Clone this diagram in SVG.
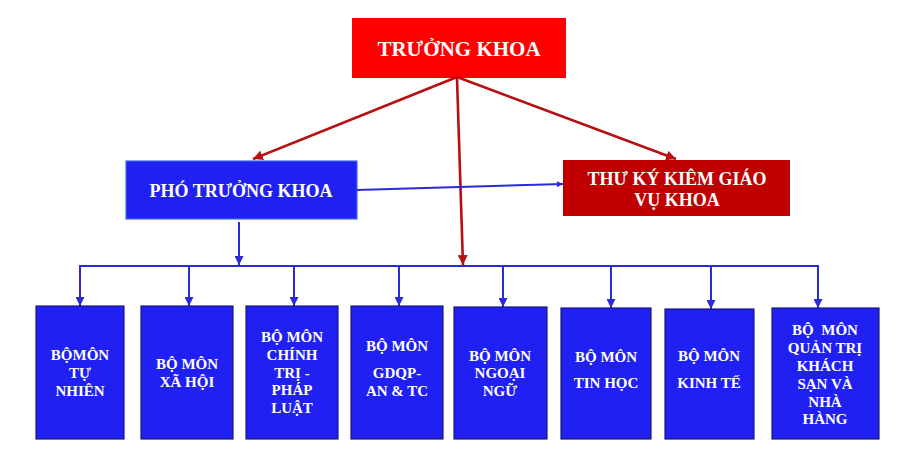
<svg xmlns="http://www.w3.org/2000/svg" width="914" height="466" viewBox="0 0 914 466">
<defs>
<marker id="ab" viewBox="0 0 10 10" refX="10" refY="5" markerWidth="4.5" markerHeight="4.5" orient="auto" markerUnits="strokeWidth"><path d="M0,0 L10,5 L0,10 z" fill="#2a2ad8"/></marker>
<marker id="ab2" viewBox="0 0 10 10" refX="10" refY="5" markerWidth="3.2" markerHeight="3.2" orient="auto" markerUnits="strokeWidth"><path d="M0,0 L10,5 L0,10 z" fill="#2a2ad8"/></marker>
<marker id="ar" viewBox="0 0 10 10" refX="10" refY="5" markerWidth="3.8" markerHeight="3.8" orient="auto" markerUnits="strokeWidth"><path d="M0,0 L10,5 L0,10 z" fill="#b80f12"/></marker>
</defs>
<style>
text{font-family:"Liberation Serif","Times New Roman",serif;font-weight:bold;fill:#fff;text-anchor:middle}
.dept rect{fill:#2020f2;stroke:#1a1a7a;stroke-width:1.2}
.dept text{font-size:15px}
.bl{stroke:#2a2ad8;stroke-width:2;fill:none}
.rd{stroke:#b80f12;stroke-width:2.6;fill:none}
</style>
<rect width="914" height="466" fill="#fff"/>
<g id="truong-khoa">
<rect x="352" y="18" width="214" height="60" fill="#ff0000"/>
<text x="459" y="56" font-size="21">TRƯỞNG KHOA</text>
</g>
<g id="pho-truong-khoa">
<rect x="126" y="161" width="231" height="58" fill="#2020f2" stroke="#3a6cf0" stroke-width="1.2"/>
<text x="241" y="197" font-size="18">PHÓ TRƯỞNG KHOA</text>
</g>
<g id="thu-ky">
<rect x="563" y="160" width="227" height="56" fill="#c00000"/>
<text x="677" y="185" font-size="18">THƯ KÝ KIÊM GIÁO</text>
<text x="677" y="206" font-size="18">VỤ KHOA</text>
</g>
<g id="connectors">
<line class="rd" x1="457" y1="77" x2="253" y2="159" marker-end="url(#ar)"/>
<line class="rd" x1="457" y1="77" x2="676" y2="159" marker-end="url(#ar)"/>
<line class="rd" x1="457" y1="78" x2="463" y2="265" marker-end="url(#ar)"/>
<line class="bl" x1="357" y1="190" x2="563" y2="184" stroke-width="3" marker-end="url(#ab2)"/>
<line class="bl" x1="239" y1="222" x2="239" y2="265" marker-end="url(#ab)"/>
<polyline class="bl" points="80,306 80,266 818,266 818,306" stroke-linejoin="miter"/>
<line class="bl" x1="80" y1="267" x2="80" y2="306" marker-end="url(#ab)"/>
<line class="bl" x1="189" y1="267" x2="189" y2="306" marker-end="url(#ab)"/>
<line class="bl" x1="294" y1="267" x2="294" y2="306" marker-end="url(#ab)"/>
<line class="bl" x1="399" y1="267" x2="399" y2="306" marker-end="url(#ab)"/>
<line class="bl" x1="503" y1="267" x2="503" y2="307" marker-end="url(#ab)"/>
<line class="bl" x1="611" y1="267" x2="611" y2="308" marker-end="url(#ab)"/>
<line class="bl" x1="711" y1="267" x2="711" y2="309" marker-end="url(#ab)"/>
<line class="bl" x1="818" y1="267" x2="818" y2="308" marker-end="url(#ab)"/>
</g>
<g id="bm-tu-nhien" class="dept">
<rect x="36" y="306" width="88" height="133" stroke="#6a3aa8"/>
<text x="80" y="360">BỘMÔN</text><text x="80" y="378">TỰ</text><text x="80" y="396">NHIÊN</text>
</g>
<g id="bm-xa-hoi" class="dept">
<rect x="141" y="306" width="92" height="133" stroke="#2020f2"/>
<text x="187" y="369">BỘ MÔN</text><text x="187" y="387">XÃ HỘI</text>
</g>
<g id="bm-chinh-tri" class="dept">
<rect x="246" y="306" width="92" height="133"/>
<text x="292" y="342">BỘ MÔN</text><text x="292" y="360">CHÍNH</text><text x="292" y="378">TRỊ -</text><text x="292" y="395">PHÁP</text><text x="292" y="413">LUẬT</text>
</g>
<g id="bm-gdqp" class="dept">
<rect x="351" y="306" width="92" height="133"/>
<text x="397" y="351">BỘ MÔN</text><text x="397" y="378">GDQP-</text><text x="397" y="396">AN &amp; TC</text>
</g>
<g id="bm-ngoai-ngu" class="dept">
<rect x="454" y="307" width="93" height="132"/>
<text x="500" y="361">BỘ MÔN</text><text x="500" y="378">NGOẠI</text><text x="500" y="396">NGỮ</text>
</g>
<g id="bm-tin-hoc" class="dept">
<rect x="561" y="308" width="90" height="131"/>
<text x="606" y="362">BỘ MÔN</text><text x="606" y="388">TIN HỌC</text>
</g>
<g id="bm-kinh-te" class="dept">
<rect x="665" y="309" width="89" height="130"/>
<text x="709" y="361">BỘ MÔN</text><text x="709" y="388">KINH TẾ</text>
</g>
<g id="bm-quan-tri" class="dept">
<rect x="772" y="308" width="107" height="131"/>
<text x="825" y="335">BỘ&#160; MÔN</text><text x="825" y="353">QUẢN TRỊ</text><text x="825" y="371">KHÁCH</text><text x="825" y="389">SẠN VÀ</text><text x="825" y="407">NHÀ</text><text x="825" y="424">HÀNG</text>
</g>
</svg>
